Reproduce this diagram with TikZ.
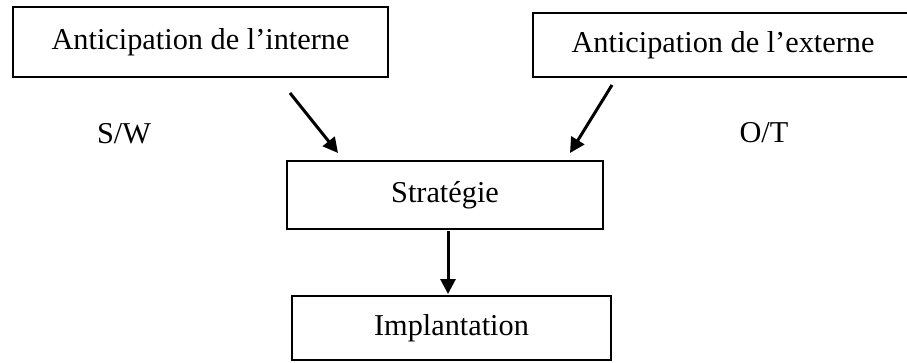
\documentclass[tikz,border=0pt]{standalone}
\usepackage{fontspec}
\setmainfont{Liberation Serif}
\usetikzlibrary{arrows.meta}
\begin{document}
\begin{tikzpicture}[x=1pt,y=-1pt,
  box/.style={draw=black, line width=2.5pt, rectangle, inner sep=0pt,
    font=\fontsize{30.3}{36}\selectfont},
  lbl/.style={font=\fontsize{30.3}{36}\selectfont, inner sep=0pt},
  flow/.style={line width=3pt, -{Triangle[length=15pt,width=15pt]}}]
  \useasboundingbox (0,0) rectangle (907,362);
  \begin{scope}
    \clip (0,0) rectangle (907,362);
    % boxes
    \node[box, minimum width=375pt, minimum height=70pt] (interne) at (200.5,42) {Anticipation de l’interne};
    \node[box, minimum width=380pt, minimum height=64pt] (externe) at (723,45) {Anticipation de l’externe};
    \node[box, minimum width=316pt, minimum height=68pt] (strat) at (445,195) {Stratégie};
    \node[box, minimum width=319pt, minimum height=64pt] (impl) at (451.5,328) {Implantation};
    % side labels
    \node[lbl] (sw) at (124,134) {S/W};
    \node[lbl] (ot) at (764,133) {O/T};
    % arrow end points
    \coordinate (a1) at (290,93);
    \coordinate (b1) at (338,153);
    \coordinate (a2) at (612,85);
    \coordinate (b2) at (570,153);
    \coordinate (a3) at (448,231);
    \coordinate (b3) at (448,294);
    \draw[flow] (a1) -- (b1);
    \draw[flow] (a2) -- (b2);
    \draw[flow] (a3) -- (b3);
  \end{scope}
\end{tikzpicture}
\end{document}
